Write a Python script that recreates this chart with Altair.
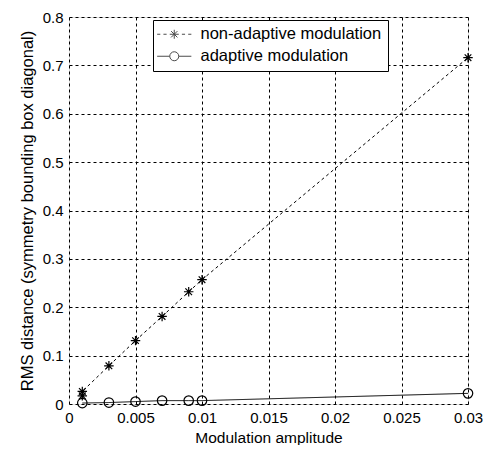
import altair as alt
import pandas as pd

x_nonadaptive = [0.001, 0.001, 0.003, 0.005, 0.007, 0.009, 0.01, 0.03]
y_nonadaptive = [0.017, 0.026, 0.079, 0.131, 0.181, 0.232, 0.257, 0.716]
x_adaptive = [0.001, 0.003, 0.005, 0.007, 0.009, 0.01, 0.03]
y_adaptive = [0.002, 0.003, 0.005, 0.007, 0.007, 0.007, 0.022]
series_names = ["non-adaptive modulation", "adaptive modulation"]
x_ticks = [0, 0.005, 0.01, 0.015, 0.02, 0.025, 0.03]
y_ticks = [0, 0.1, 0.2, 0.3, 0.4, 0.5, 0.6, 0.7, 0.8]

df = pd.concat([
    pd.DataFrame({"x": x_nonadaptive, "y": y_nonadaptive, "s": series_names[0], "o": range(len(x_nonadaptive))}),
    pd.DataFrame({"x": x_adaptive, "y": y_adaptive, "s": series_names[1], "o": range(len(x_adaptive))}),
])

FONT = "Liberation Sans"
star = "M0,-1L0,1M-1,0L1,0M-0.7,-0.7L0.7,0.7M-0.7,0.7L0.7,-0.7"
circ = "M1,0A1,1 0 1,1 -1,0A1,1 0 1,1 1,0Z"

# legend symbols: line segment + marker (unit = 4.5px)
leg_star = ("M-3.8,0L-3.1,0M-2.4,0L-1.7,0M1.7,0L2.4,0M3.1,0L3.8,0"
            "M0,-1L0,1M-1,0L1,0M-0.7,-0.7L0.7,0.7M-0.7,0.7L0.7,-0.7")
leg_circ = "M-3.8,0L-1,0M1,0L3.8,0M1,0A1,1 0 1,1 -1,0A1,1 0 1,1 1,0Z"

xs = alt.Scale(domain=[0, 0.03], nice=False, zero=False)
ys = alt.Scale(domain=[0, 0.8], nice=False)

xax = alt.Axis(values=x_ticks, title="Modulation amplitude", grid=True, gridDash=[3, 3],
               gridColor="black", gridOpacity=1, ticks=False, domain=False,
               labelFont=FONT, labelFontSize=15, labelColor="black", labelPadding=6,
               titleFont=FONT, titleFontSize=15.5, titleFontWeight="normal", titleColor="black",
               titlePadding=5, labelFlush=False, labelExpr="datum.value == 0 ? '0' : format(datum.value, '')")
yax = alt.Axis(values=y_ticks, title="RMS distance (symmetry bounding box diagonal)", grid=True,
               gridDash=[3, 3], gridColor="black", gridOpacity=1, ticks=False, domain=False,
               labelFont=FONT, labelFontSize=15, labelColor="black", labelPadding=6,
               titleFont=FONT, titleFontSize=16.5, titleFontWeight="normal", titleColor="black",
               titlePadding=7, labelFlush=False, labelExpr="datum.value == 0 ? '0' : format(datum.value, '')")

base = alt.Chart(df)

lines = base.mark_line(color="black", strokeWidth=1).encode(
    x=alt.X("x:Q", scale=xs, axis=xax),
    y=alt.Y("y:Q", scale=ys, axis=yax),
    detail="s:N",
    order="o:Q",
    strokeDash=alt.StrokeDash("s:N", scale=alt.Scale(domain=series_names, range=[[3, 3], [1, 0]]), legend=None),
)

points = base.mark_point(filled=False, color="black", strokeWidth=1.2, size=90, opacity=1).encode(
    x="x:Q", y="y:Q",
    shape=alt.Shape("s:N", scale=alt.Scale(domain=series_names, range=[star, circ]), legend=None),
)

legend_layer = base.mark_point(filled=False, color="black", strokeWidth=1).encode(
    x="x:Q", y="y:Q",
    shape=alt.Shape("s:N", scale=alt.Scale(domain=series_names, range=[leg_star, leg_circ]),
                    legend=alt.Legend(title=None, orient="none", legendX=84, legendY=3,
                                      strokeColor="black", fillColor="white", padding=6,
                                      labelFont=FONT, labelFontSize=16.5, labelColor="black",
                                      labelOffset=18, labelLimit=400, symbolSize=81, symbolStrokeWidth=1,
                                      symbolStrokeColor="black", symbolOffset=7, rowPadding=5,
                                      cornerRadius=0)),
).transform_filter("false")

chart = alt.layer(lines, points, legend_layer).resolve_scale(shape="independent").properties(
    width=399, height=387,
    autosize=alt.AutoSizeParams(type="none"),
    padding={"left": 61, "top": 9, "right": 15, "bottom": 41},
).configure_view(stroke="black", strokeWidth=1).configure(background="white")

chart.save("out.html", embed_options={"renderer": "svg", "actions": False})
